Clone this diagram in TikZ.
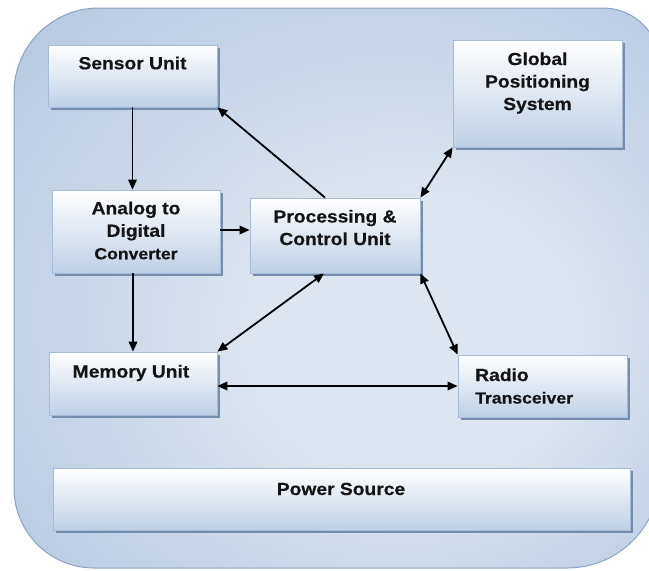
\documentclass[tikz,border=0pt]{standalone}
\usepackage{fontspec}
\usetikzlibrary{arrows.meta,shadows}

\newfontfamily\labfont{Liberation Sans}[FakeStretch=1.1, BoldFeatures={FakeBold=0.4}]
\newcommand\smallerline{\fontsize{16}{22.5}\selectfont}

\definecolor{bglight}{HTML}{DDE5F0}
\definecolor{bgdark}{HTML}{A5BBD9}
\definecolor{bgedge}{HTML}{8CA4C3}
\definecolor{boxbot}{HTML}{BFD0E5}
\definecolor{boxedge}{HTML}{A6BBD6}
\definecolor{boxshadow}{HTML}{7189AA}
\definecolor{ink}{HTML}{141414}

% soft glow behind the whole block diagram, brightest a little right of and below centre
\pgfdeclareradialshading{bgglow}{\pgfpoint{8bp}{-6bp}}{%
  color(0bp)=(bglight); color(12bp)=(bglight); color(48bp)=(bgdark)}

\tikzset{
  unit/.style={rectangle, draw=boxedge, line width=0.8pt,
    top color=white, bottom color=boxbot, inner sep=0pt,
    drop shadow={shadow xshift=2.5pt, shadow yshift=-3pt, fill=boxshadow, opacity=0.95}},
  lbl/.style={inner sep=0pt, align=center, text=ink,
    font={\labfont\bfseries\fontsize{17.5}{22.5}\selectfont}},
  arr/.style={draw=black, line width=1.8pt, -{Triangle[length=10pt,width=8.5pt]}},
  biarr/.style={draw=black, line width=1.8pt,
    {Triangle[length=10pt,width=8.5pt]}-{Triangle[length=10pt,width=8.5pt]}},
}

\begin{document}
\begin{tikzpicture}[x=1pt, y=-1pt]
\useasboundingbox (0,0) rectangle (649,571);
\clip (0,0) rectangle (649,571);

% outer container with unequal corner radii
\path[shading=bgglow, draw=bgedge, line width=1pt]
  (14,300) [rounded corners=85pt] -- (14,8) -- (337,8)
  [rounded corners=57pt] -- (660,8) -- (660,300)
  [rounded corners=93pt] -- (660,568) -- (337,568)
  [rounded corners=80pt] -- (14,568) -- cycle;

% functional units
\node[unit, minimum width=169pt, minimum height=62pt]  (sensor) at (132.5,76)  {};
\node[unit, minimum width=168pt, minimum height=83pt]  (adc)    at (136,231.5) {};
\node[unit, minimum width=170pt, minimum height=75pt]  (proc)   at (335,235.5) {};
\node[unit, minimum width=169pt, minimum height=107pt] (gps)    at (537.5,93.5) {};
\node[unit, minimum width=168pt, minimum height=63pt]  (memory) at (133,383.5) {};
\node[unit, minimum width=169pt, minimum height=62pt]  (radio)  at (542.5,386) {};
\node[unit, minimum width=577pt, minimum height=62pt]  (power)  at (341.5,499) {};

% unit captions
\node[lbl] (sensorlbl) at (132.5,63)  {Sensor Unit};
\node[lbl] (adclbl)    at (136,230.5) {Analog to\\Digital\\{\smallerline Converter}};
\node[lbl] (proclbl)   at (335,227.5) {Processing \&\\Control Unit};
\node[lbl] (gpslbl)    at (537.5,83)  {Global\\Positioning\\System};
\node[lbl] (memorylbl) at (131,373)   {Memory Unit};
\node[lbl, align=left, anchor=west] (radiolbl) at (475,386) {Radio\\{\smallerline Transceiver}};
\node[lbl] (powerlbl)  at (341,489)   {Power Source};

% data and control paths
\draw[arr]   (sensor.south) -- (sensor.south |- adc.north);
\draw[arr]   ([xshift=-10pt]proc.north) -- (sensor.south east);
\draw[arr]   ([yshift=1.5pt]adc.east) -- ([yshift=1.5pt]adc.east -| proc.west);
\draw[arr]   (adc.south -| memory.north) -- (memory.north);
\draw[biarr] (memory.north east) -- ([xshift=-11pt]proc.south);
\draw[biarr] (proc.north east) -- (gps.south west);
\draw[biarr] (proc.south east) -- (radio.north west);
\draw[biarr] (memory.east |- radio.west) -- (radio.west);
\end{tikzpicture}
\end{document}
